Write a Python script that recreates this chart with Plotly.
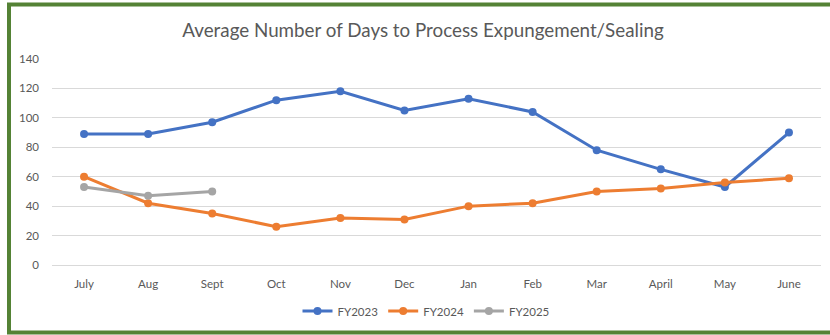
import plotly.graph_objects as go

months = ["July", "Aug", "Sept", "Oct", "Nov", "Dec", "Jan", "Feb", "Mar", "April", "May", "June"]
fy2023 = [89, 89, 97, 112, 118, 105, 113, 104, 78, 65, 53, 90]
fy2024 = [60, 42, 35, 26, 32, 31, 40, 42, 50, 52, 56, 59]
fy2025 = [53, 47, 50]

series = [
    ("FY2023", fy2023, "#4472C4"),
    ("FY2024", fy2024, "#ED7D31"),
    ("FY2025", fy2025, "#A5A5A5"),
]

W, H = 830, 335
ML, MR, MT, MB = 52, 9, 59, 70
PW, PH = W - ML - MR, H - MT - MB

def px_x(px):
    return (px - ML) / PW

def px_y(py):
    return (H - MB - py) / PH

fig = go.Figure()
for name, vals, color in series:
    fig.add_trace(go.Scatter(
        x=months[:len(vals)], y=vals, name=name, mode="lines+markers",
        line=dict(color=color, width=3),
        marker=dict(color=color, size=8),
    ))

fig.update_layout(
    width=W, height=H,
    margin=dict(l=ML, r=MR, t=MT, b=MB, autoexpand=False),
    paper_bgcolor="white", plot_bgcolor="white",
    font=dict(family="Lato, Open Sans, sans-serif", color="#595959", size=11.5),
    title=dict(
        text="Average Number of Days to Process Expungement/Sealing",
        x=423 / W, xref="container", xanchor="center",
        y=1 - 30 / H, yref="container", yanchor="middle",
        font=dict(size=18.8, color="#595959"),
    ),
    xaxis=dict(
        categoryorder="array", categoryarray=months,
        showgrid=False, showline=False, ticks="",
        tickfont=dict(size=11.5, color="#595959"),
        range=[-0.5, 11.5], ticklabelstandoff=10, automargin=False,
    ),
    yaxis=dict(
        range=[0, 140], dtick=20, showgrid=True, gridcolor="#D9D9D9",
        gridwidth=1, zeroline=True, zerolinecolor="#D9D9D9", zerolinewidth=1,
        ticks="", tickfont=dict(size=11.5, color="#595959"),
        ticklabelstandoff=12, automargin=False,
    ),
    showlegend=True,
    legend=dict(
        orientation="h", x=426 / W, xref="container", xanchor="center",
        y=1 - 311 / H, yref="container", yanchor="middle",
        font=dict(size=11.5, color="#595959"),
        itemwidth=30,
    ),
    shapes=[
        dict(
            type="rect", xref="paper", yref="paper",
            x0=px_x(9), x1=px_x(845), y0=px_y(332.5), y1=px_y(4.5),
            line=dict(color="#548235", width=4), fillcolor="rgba(0,0,0,0)",
            layer="above",
        )
    ],
)

fig.write_html("out.html")
